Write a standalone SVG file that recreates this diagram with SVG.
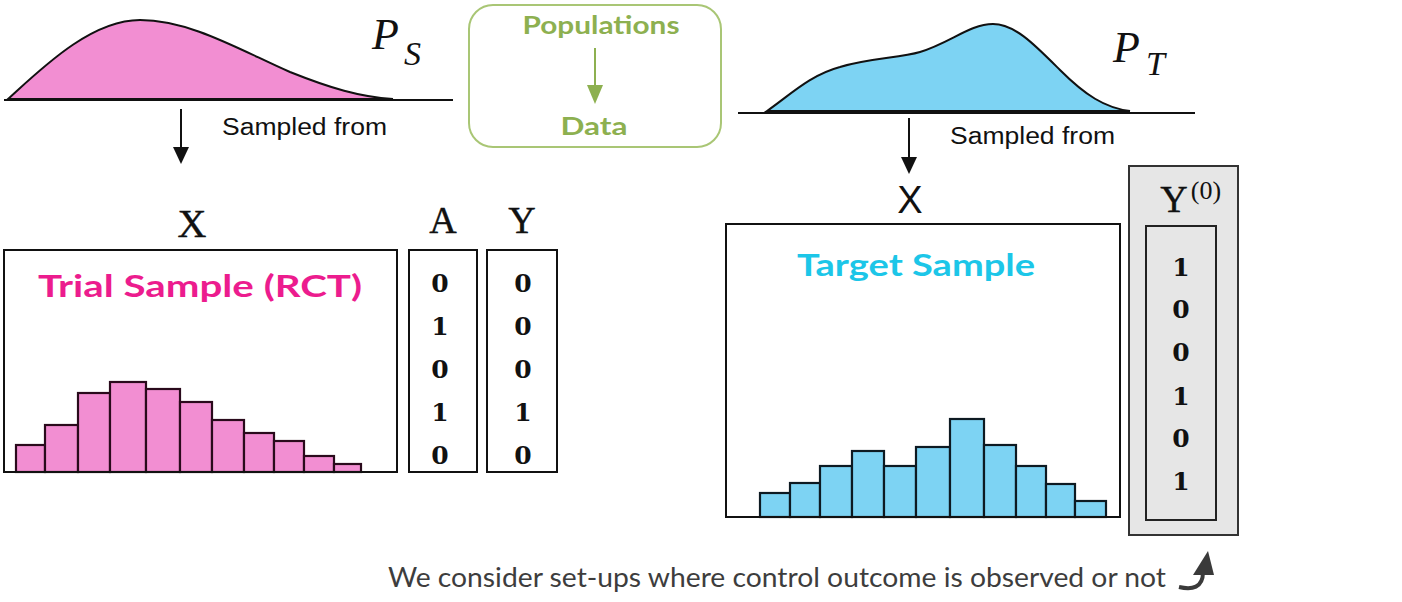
<svg xmlns="http://www.w3.org/2000/svg" width="1402" height="602" viewBox="0 0 1402 602">
<defs>
<style>
.ax{stroke:#111;stroke-width:2;fill:none}
.box{fill:#fff;stroke:#111;stroke-width:2}
.pk{fill:#F28ED2;stroke:#2a0a1c;stroke-width:2.2}
.cy{fill:#7DD3F3;stroke:#0d1a22;stroke-width:2.2}
.sf{font-family:"Liberation Sans",Arial,sans-serif;fill:#111}
.serif{font-family:"Liberation Serif","Times New Roman",serif;fill:#111}
.lbl{stroke:#111;stroke-width:0.4}
.num{font-family:"DejaVu Serif","Liberation Serif",serif;font-weight:bold;font-size:25px;fill:#111;text-anchor:middle}
.cm{font-family:Lato,"Open Sans",sans-serif;font-weight:bold}
.green{fill:#8DB050}
</style>
</defs>
<rect width="1402" height="602" fill="#fff"/>

<g id="pop-source">
<path d="M8,99 C40,70 90,20 140,20 C190,20 240,50 290,72 C330,88 360,97 393,99 Z" fill="#F28ED2" stroke="#111" stroke-width="2"/>
<line class="ax" x1="4" y1="100" x2="453" y2="100"/>
<text class="serif" x="372" y="49" font-size="44" font-style="italic">P</text>
<text class="serif" x="404" y="65" font-size="34" font-style="italic">S</text>
<text class="sf" x="222" y="135" font-size="23" textLength="165" lengthAdjust="spacingAndGlyphs">Sampled from</text>
</g>

<g id="legend">
<rect x="469" y="5" width="252" height="142" rx="24" fill="#fff" stroke="#A9C675" stroke-width="2"/>
<text class="cm green" x="601" y="34" font-size="24" text-anchor="middle" textLength="157" lengthAdjust="spacingAndGlyphs">Populations</text>
<text class="cm green" x="594" y="135" font-size="24" text-anchor="middle" textLength="67" lengthAdjust="spacingAndGlyphs">Data</text>
</g>

<g id="pop-target">
<path d="M767,111 C790,95 810,75 840,67 C870,58 900,58 920,52 C950,43 970,24 993,24 C1015,24 1035,45 1060,70 C1085,95 1105,108 1130,111 Z" fill="#7DD3F3" stroke="#111" stroke-width="2"/>
<line class="ax" x1="738" y1="113" x2="1195" y2="113"/>
<text class="serif" x="1113" y="62" font-size="44" font-style="italic">P</text>
<text class="serif" x="1146" y="75" font-size="34" font-style="italic">T</text>
<text class="sf" x="950" y="144" font-size="23" textLength="165" lengthAdjust="spacingAndGlyphs">Sampled from</text>
</g>

<g id="connectors">
<line x1="181" y1="109" x2="181" y2="150" stroke="#111" stroke-width="2"/>
<path d="M173,147 L189,147 L181,164 Z" fill="#111"/>
<line x1="909" y1="118" x2="909" y2="160" stroke="#111" stroke-width="2"/>
<path d="M901,157 L917,157 L909,174 Z" fill="#111"/>
<line x1="595" y1="48" x2="595" y2="88" stroke="#8DB050" stroke-width="2"/>
<path d="M587,85 L603,85 L595,104 Z" fill="#8DB050"/>
<path d="M1179,587 C1192,590 1203,588 1203,572" fill="none" stroke="#3a3a3a" stroke-width="4"/>
<path d="M1193,575 L1214,575 L1208,551 Z" fill="#3a3a3a"/>
</g>

<g id="trial-sample">
<text class="serif lbl" x="192" y="237" font-size="40" text-anchor="middle">X</text>
<rect class="box" x="4" y="250" width="393" height="222"/>
<text class="cm" x="200" y="297" font-size="30" fill="#EC1C8E" text-anchor="middle" textLength="324" lengthAdjust="spacingAndGlyphs">Trial Sample (RCT)</text>
<g>
<rect class="pk" x="16" y="445" width="29" height="27"/>
<rect class="pk" x="45" y="425" width="33" height="47"/>
<rect class="pk" x="78" y="393" width="32" height="79"/>
<rect class="pk" x="110" y="382" width="36" height="90"/>
<rect class="pk" x="146" y="389" width="34" height="83"/>
<rect class="pk" x="180" y="402" width="32" height="70"/>
<rect class="pk" x="212" y="420" width="32" height="52"/>
<rect class="pk" x="244" y="433" width="30" height="39"/>
<rect class="pk" x="274" y="441" width="30" height="31"/>
<rect class="pk" x="304" y="456" width="30" height="16"/>
<rect class="pk" x="334" y="464" width="27" height="8"/>
</g>
<line class="ax" x1="4" y1="472" x2="397" y2="472"/>
</g>

<g id="col-A">
<text class="serif lbl" x="443" y="233" font-size="38" text-anchor="middle">A</text>
<rect class="box" x="409" y="250" width="68" height="222"/>
<text class="num" x="440" y="292">0</text>
<text class="num" x="440" y="335">1</text>
<text class="num" x="440" y="378">0</text>
<text class="num" x="440" y="421">1</text>
<text class="num" x="440" y="464">0</text>
</g>

<g id="col-Y">
<text class="serif lbl" x="522" y="233" font-size="38" text-anchor="middle">Y</text>
<rect class="box" x="487" y="250" width="70" height="222"/>
<text class="num" x="523" y="292">0</text>
<text class="num" x="523" y="335">0</text>
<text class="num" x="523" y="378">0</text>
<text class="num" x="523" y="421">1</text>
<text class="num" x="523" y="464">0</text>
</g>

<g id="target-sample">
<text class="sf" x="910" y="213" font-size="38" text-anchor="middle">X</text>
<rect class="box" x="726" y="224" width="394" height="293"/>
<text class="cm" x="916" y="276" font-size="30" fill="#1CC6E8" text-anchor="middle" textLength="238" lengthAdjust="spacingAndGlyphs">Target Sample</text>
<g>
<rect class="cy" x="760" y="493" width="30" height="24"/>
<rect class="cy" x="790" y="483" width="30" height="34"/>
<rect class="cy" x="820" y="466" width="32" height="51"/>
<rect class="cy" x="852" y="451" width="32" height="66"/>
<rect class="cy" x="884" y="466" width="32" height="51"/>
<rect class="cy" x="916" y="447" width="34" height="70"/>
<rect class="cy" x="950" y="419" width="34" height="98"/>
<rect class="cy" x="984" y="445" width="32" height="72"/>
<rect class="cy" x="1016" y="466" width="30" height="51"/>
<rect class="cy" x="1046" y="484" width="29" height="33"/>
<rect class="cy" x="1075" y="501" width="31" height="16"/>
</g>
<line class="ax" x1="726" y1="517" x2="1120" y2="517"/>
</g>

<g id="col-Y0">
<rect x="1129" y="166" width="109" height="369" fill="#E6E6E6" stroke="#333" stroke-width="2"/>
<text class="serif lbl" x="1174" y="212" font-size="38" text-anchor="middle">Y</text>
<text class="serif" x="1206" y="199" font-size="26" text-anchor="middle">(0)</text>
<rect x="1146" y="226" width="70" height="294" fill="#E6E6E6" stroke="#222" stroke-width="2"/>
<text class="num" x="1181" y="276">1</text>
<text class="num" x="1181" y="318">0</text>
<text class="num" x="1181" y="361">0</text>
<text class="num" x="1181" y="405">1</text>
<text class="num" x="1181" y="447">0</text>
<text class="num" x="1181" y="490">1</text>
</g>

<g id="caption">
<text x="388" y="587" font-family="Lato,'Open Sans',sans-serif" font-size="26" fill="#3d3d3d" textLength="778" lengthAdjust="spacingAndGlyphs">We consider set-ups where control outcome is observed or not</text>
</g>
</svg>
